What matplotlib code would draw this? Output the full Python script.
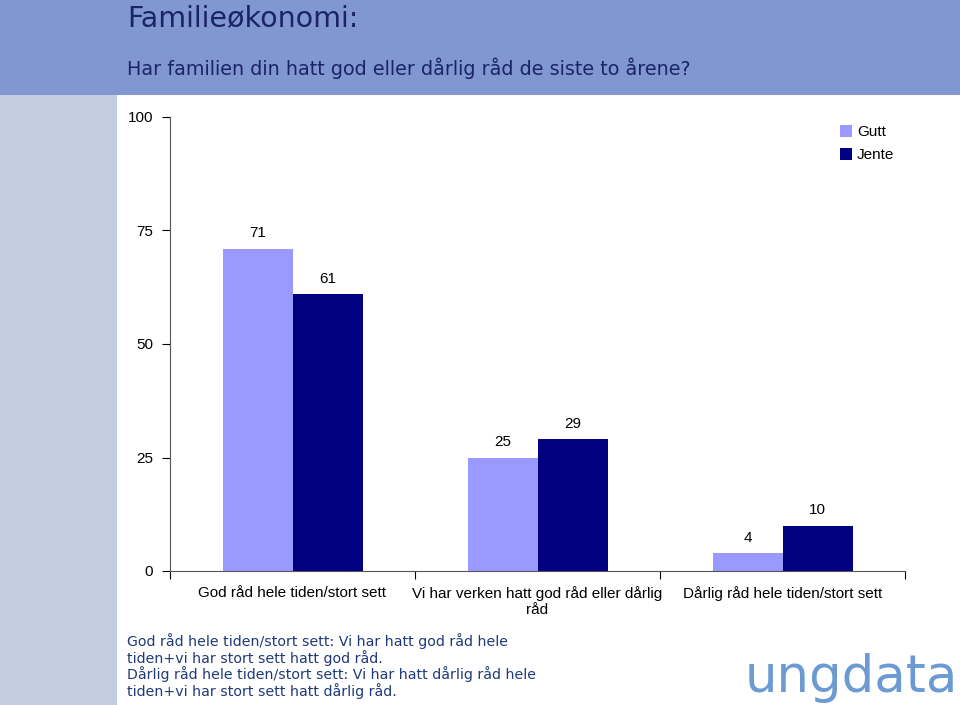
import matplotlib.pyplot as plt
from matplotlib.patches import Rectangle
import numpy as np

kategorier = ['God råd hele tiden/stort sett',
              'Vi har verken hatt god råd eller dårlig\nråd',
              'Dårlig råd hele tiden/stort sett']
gutt = [71, 25, 4]
jente = [61, 29, 10]
serier = ['Gutt', 'Jente']
farger = ['#9999ff', '#000080']
yticks = [0, 25, 50, 75, 100]

tittel = 'Familieøkonomi:'
undertittel = 'Har familien din hatt god eller dårlig råd de siste to årene?'
fotnote = ('God råd hele tiden/stort sett: Vi har hatt god råd hele\n'
           'tiden+vi har stort sett hatt god råd.\n'
           'Dårlig råd hele tiden/stort sett: Vi har hatt dårlig råd hele\n'
           'tiden+vi har stort sett hatt dårlig råd.')

plt.rcParams['font.family'] = ['Liberation Sans', 'DejaVu Sans']

fig = plt.figure(figsize=(9.6, 7.05), dpi=100)
fig.patch.set_facecolor('white')

# bakgrunn: blått felt oppe, grå stripe til venstre
fig.patches.append(Rectangle((0, 1 - 95/705), 1, 95/705, transform=fig.transFigure,
                             facecolor='#8097d2', edgecolor='none', zorder=0))
fig.patches.append(Rectangle((0, 0), 117/960, 1 - 95/705, transform=fig.transFigure,
                             facecolor='#c2cde0', edgecolor='none', zorder=0))

fig.text(127/960, 1 - 18/705, tittel, fontsize=20.5, color='#1c2466',
         family=['DejaVu Sans'], va='center', ha='left')
fig.text(127/960, 1 - 68/705, undertittel, fontsize=13.8, color='#1c2466',
         family=['DejaVu Sans'], va='center', ha='left')

ax = fig.add_axes([170/960, 1 - 571/705, 735/960, 454/705])
x = np.arange(len(kategorier))
b = 70/245
r1 = ax.bar(x - b/2, gutt, b, color=farger[0], label=serier[0])
r2 = ax.bar(x + b/2, jente, b, color=farger[1], label=serier[1])
for rects, vals in ((r1, gutt), (r2, jente)):
    for rect, v in zip(rects, vals):
        ax.annotate(str(v), (rect.get_x() + rect.get_width()/2, v),
                    xytext=(0, 6), textcoords='offset points',
                    ha='center', va='bottom', fontsize=11)

ax.set_xlim(-0.5, 2.5)
ax.set_ylim(0, 100)
ax.set_yticks(yticks)
ax.tick_params(axis='y', labelsize=11, length=6, direction='out', pad=6)
ax.set_xticks([-0.5, 0.5, 1.5, 2.5])
ax.set_xticklabels([])
ax.tick_params(axis='x', length=6, direction='out')
ax.set_xticks(x, minor=True)
ax.set_xticklabels(kategorier, minor=True, fontsize=11)
ax.tick_params(axis='x', which='minor', length=0, pad=11)
for s in ('top', 'right'):
    ax.spines[s].set_visible(False)
for s in ('left', 'bottom'):
    ax.spines[s].set_color('#555555')

ax.legend(loc='upper left', bbox_to_anchor=(0.893, 1.013), frameon=False, fontsize=11,
          handlelength=0.8, handleheight=0.8, handletextpad=0.3, labelspacing=0.6)

fig.text(127/960, 1 - 666/705, fotnote, fontsize=10.2, color='#1f3a78',
         family=['DejaVu Sans'], va='center', ha='left', linespacing=1.05)

fig.text(745/960, 1 - 678/705, 'ungdata', fontsize=37, color='#6b9bd2',
         family=['DejaVu Sans'], va='center', ha='left')

fig.savefig('out.png', dpi=100)
